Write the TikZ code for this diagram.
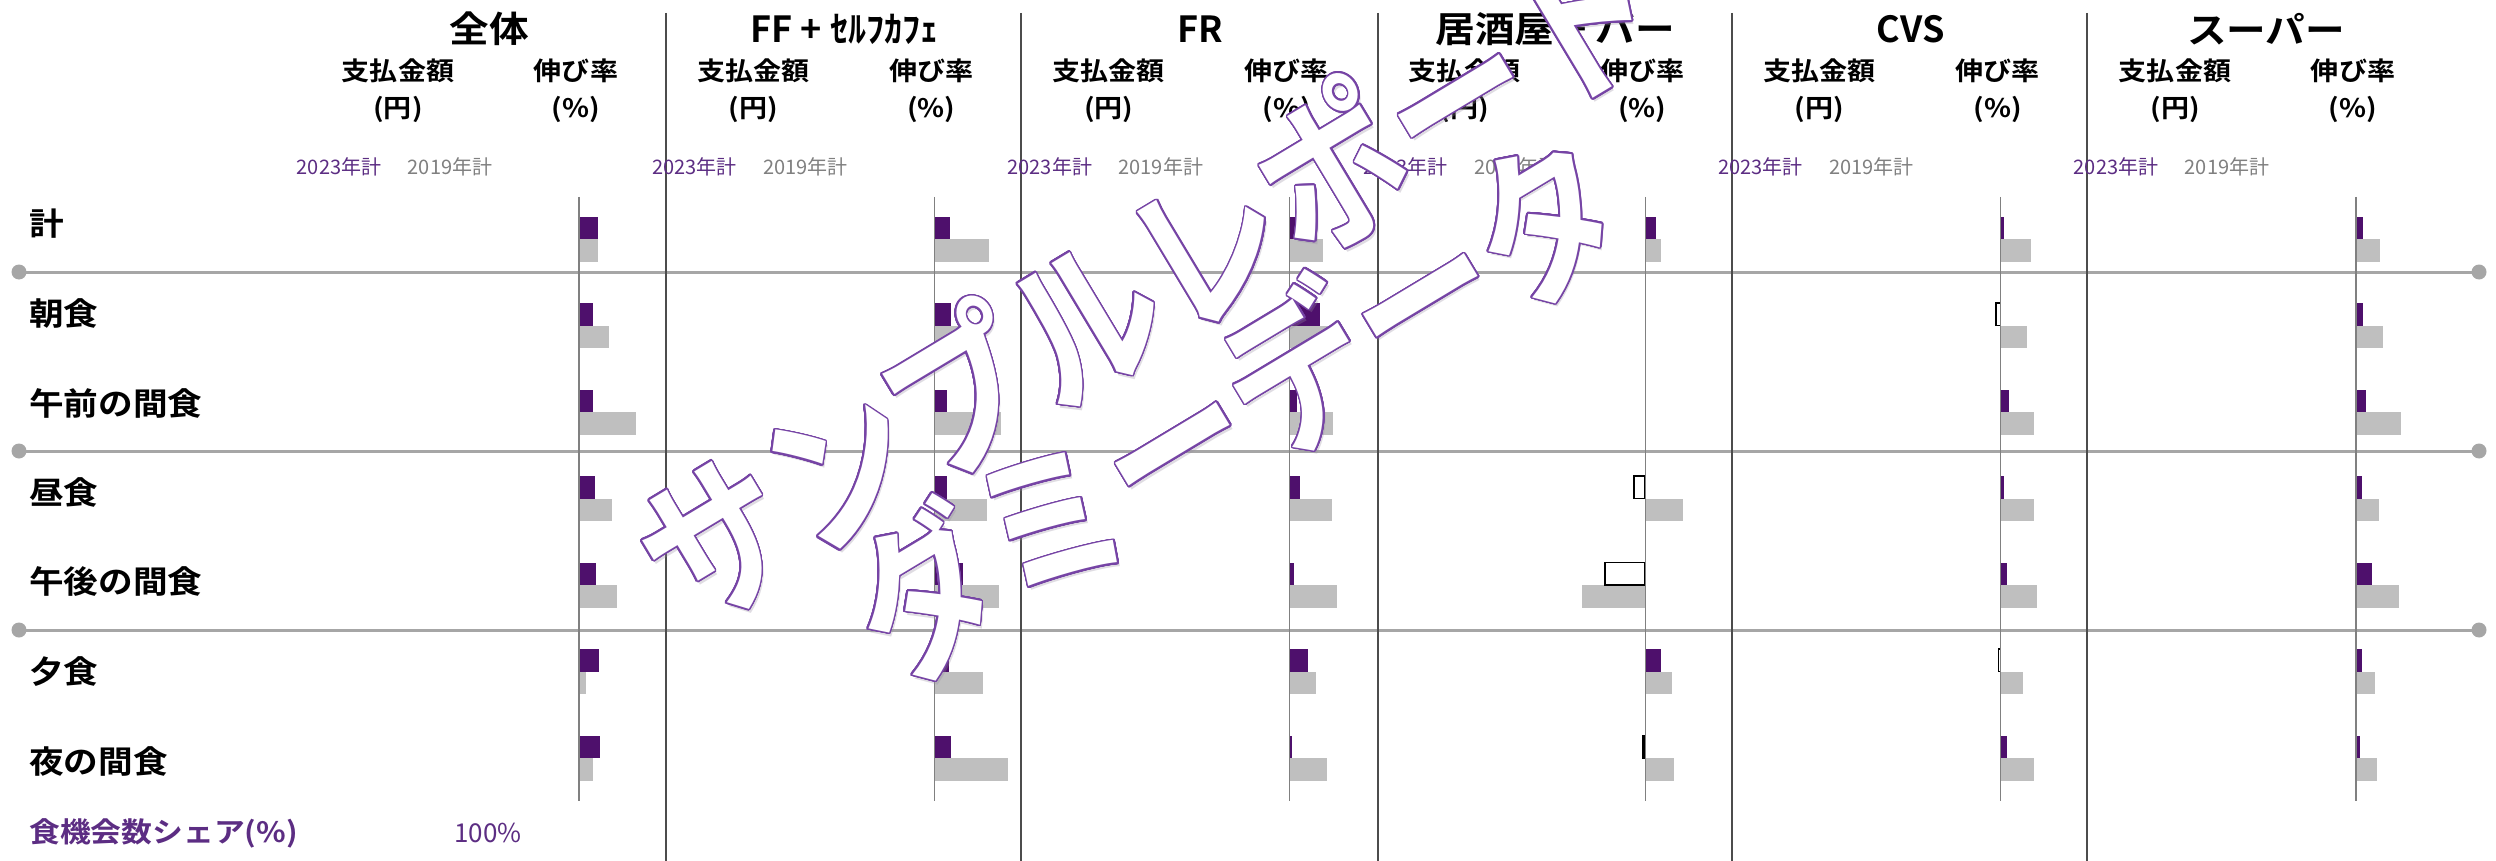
\documentclass[tikz,border=0pt]{standalone}
\usepackage{fontspec}
\usepackage{contour}
\newfontfamily\jpR{Noto Sans CJK JP}[FakeStretch=1.1]
\newfontfamily\jpRn{Noto Sans CJK JP}
\newfontfamily\jpB{Noto Sans CJK JP Bold}[FakeStretch=1.1]
\newfontfamily\jpBn{Noto Sans CJK JP Bold}
\newfontfamily\jpWM{Noto Sans CJK JP Bold}[FakeStretch=0.85]
\definecolor{barP}{RGB}{78,16,108}
\definecolor{barG}{RGB}{191,191,191}
\definecolor{gridG}{RGB}{166,166,166}
\definecolor{txtP}{RGB}{92,45,131}
\definecolor{txtG}{RGB}{128,128,128}
\definecolor{wmP}{RGB}{118,68,165}
\definecolor{wmS}{RGB}{150,140,160}
\contourlength{1.6pt}
\contournumber{32}
\begin{document}
\begin{tikzpicture}[x=1pt,y=-1pt,
  title/.style={inner sep=0pt,font=\jpB\fontsize{36}{40}\selectfont},
  titlen/.style={inner sep=0pt,font=\jpBn\fontsize{36}{40}\selectfont},
  sub/.style={inner sep=0pt,font=\jpB\fontsize{25.5}{28}\selectfont},
  yrP/.style={inner sep=0pt,text=txtP,font=\jpRn\fontsize{20}{22}\selectfont},
  yrG/.style={inner sep=0pt,text=txtG,font=\jpRn\fontsize{20}{22}\selectfont},
  rowlab/.style={inner sep=0pt,anchor=west,font=\jpB\fontsize{31.5}{34}\selectfont},
  sharelab/.style={inner sep=0pt,anchor=west,text=txtP,font=\jpB\fontsize{28}{30}\selectfont},
  shareval/.style={inner sep=0pt,text=txtP,font=\jpRn\fontsize{26}{28}\selectfont},
  grid/.style={draw=gridG,line width=3pt},
  griddot/.style={fill=gridG},
  divider/.style={draw=black!70,line width=1.4pt},
  axisline/.style={draw=black!50,line width=1.2pt},
  negbar/.style={draw=black,line width=1.5pt,fill=white},
  wm/.style={inner sep=0pt,text=white,rotate=31,font=\jpWM\fontsize{170}{175}\selectfont},
  wmshadow/.style={inner sep=0pt,text=wmS,rotate=31,opacity=0.3,font=\jpWM\fontsize{170}{175}\selectfont}
]
\useasboundingbox[fill=white] (0,0) rectangle (2496,861);

% horizontal grid lines with end dots
\foreach \yy [count=\j] in {272,451,630} {
  \coordinate (gl\j) at (19,\yy);
  \coordinate (gr\j) at (2479,\yy);
  \draw[grid] (gl\j) -- (gr\j);
  \fill[griddot] (gl\j) circle (7.5);
  \fill[griddot] (gr\j) circle (7.5);
}

% column dividers
\foreach \xx [count=\j] in {666,1021,1378,1732,2087} {
  \coordinate (dt\j) at (\xx,13);
  \coordinate (db\j) at (\xx,861);
  \draw[divider] (dt\j) -- (db\j);
}

% bars
\foreach \k/\vals in {
 0/{18.5/19,13.5/30,13.5/56.5,16/32.5,17/38,19.5/7,20.5/13.5},
 1/{15.5/55,16.6/34.4,12.6/66.6,12.6/52.8,28.7/64.9,14.4/48.2,16.6/73.5},
 2/{13.2/32.7,30.4/40.8,7.5/43,10.3/41.9,4.6/47.6,18.4/26.4,1.7/36.7},
 3/{11/16,0/0,0/0,-11/37.3,-40.2/-62.9,16/26.3,-2.2/29.2},
 4/{2.9/30.7,-4.4/26.3,8/32.9,3.7/33.6,6.6/36.5,-2.2/21.9,6.6/32.9},
 5/{7.3/24.1,7.3/27,9.5/45.3,5.8/22.7,16/43.1,5.8/19,4.4/20.5}}
{
  \pgfmathsetmacro\ax{579+355.4*\k}
  \foreach \p/\g [count=\i from 0] in \vals {
    \pgfmathsetmacro\yb{239+86.5*\i}
    \ifdim \g pt=0pt \else \fill[barG] (\ax,\yb) rectangle ({\ax+(\g)},{\yb+22.5});\fi
    \ifdim \p pt<0pt \draw[negbar] (\ax,{\yb-22.5}) rectangle ({\ax+(\p)},\yb);\fi
    \ifdim \p pt>0pt \fill[barP] (\ax,{\yb-22.5}) rectangle ({\ax+(\p)},\yb);\fi
  }
  \coordinate (at\k) at (\ax,197);
  \coordinate (ab\k) at (\ax,801);
  \draw[axisline] (at\k) -- (ab\k);
}

% titles
\node[title]  (t0) at (489,29) {全体};
\node[titlen] (t1) at (844.4,29) {FF + ｾﾙﾌｶﾌｪ};
\node[titlen] (t2) at (1199.8,29) {FR};
\node[title]  (t3) at (1555.2,29) {居酒屋 + バー};
\node[titlen] (t4) at (1910.6,29) {CVS};
\node[title]  (t5) at (2266,29) {スーパー};

% sub headers
\foreach \k in {0,...,5} {
  \pgfmathsetmacro\cx{489+355.4*\k}
  \node[sub] (pay\k) at (\cx-91,71) {支払金額};
  \node[sub] (yen\k) at (\cx-91,109.5) {(円)};
  \node[sub] (gr\k) at (\cx+87,71) {伸び率};
  \node[sub] (pc\k) at (\cx+87,109.5) {(\%)};
  \node[yrP] (y23\k) at (\cx-150,167) {2023年計};
  \node[yrG] (y19\k) at (\cx-39,167) {2019年計};
}

% row labels
\foreach \lab [count=\i from 0] in {計,朝食,午前の間食,昼食,午後の間食,夕食,夜の間食}
  \node[rowlab] (r\i) at (29,{224+89.5*\i}) {\lab};
\node[sharelab] (share) at (29,833) {食機会数シェア(\%)};
\node[shareval] (sharev) at (488,833) {100\%};

% watermark
\node[wmshadow] (wm1s) at (1149,282) {サンプルレポート};
\node[wmshadow] (wm2s) at (1237,410) {ダミーデータ};
\node[wm] (wm1) at (1147,279) {\contour{wmP}{サンプルレポート}};
\node[wm] (wm2) at (1235,407) {\contour{wmP}{ダミーデータ}};
\end{tikzpicture}
\end{document}
